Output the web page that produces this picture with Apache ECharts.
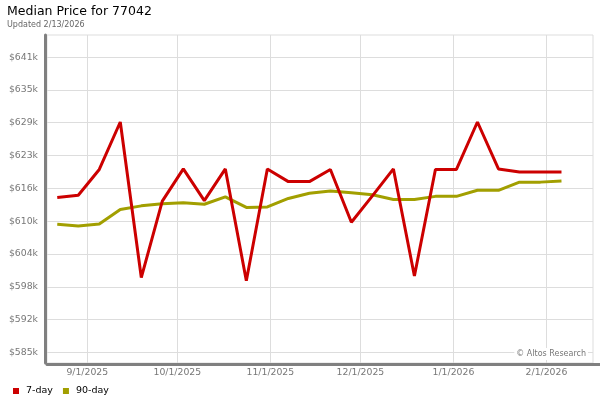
<!DOCTYPE html>
<html><head><meta charset="utf-8">
<script src="https://cdn.jsdelivr.net/npm/echarts@6/dist/echarts.min.js"></script>
<style>html,body{margin:0;padding:0;background:#fff}#c{width:600px;height:400px}</style>
</head><body><div id="c"></div>
<script>
const dates = ['2025-08-22','2025-08-29','2025-09-05','2025-09-12','2025-09-19','2025-09-26',
  '2025-10-03','2025-10-10','2025-10-17','2025-10-24','2025-10-31','2025-11-07','2025-11-14',
  '2025-11-21','2025-11-28','2025-12-05','2025-12-12','2025-12-19','2025-12-26','2026-01-02',
  '2026-01-09','2026-01-16','2026-01-23','2026-01-30','2026-02-06'];
const sevenDay = [614700, 615100, 620000, 629000, 599500, 614000, 620100, 614100, 620100, 598900,
  620100, 617700, 617700, 620000, 610000, 615000, 620100, 599800, 620000, 620000, 629000, 620100,
  619500, 619500, 619500];
const ninetyDay = [609600, 609300, 609650, 612400, 613100, 613500, 613700, 613400, 614800, 612800,
  612900, 614500, 615500, 615900, 615600, 615200, 614300, 614300, 614900, 614900, 616050, 616050,
  617600, 617600, 617800];
const xTickDates = ['2025-09-01','2025-10-01','2025-11-01','2025-12-01','2026-01-01','2026-02-01'];
const yTickValues = [585300, 591520, 597750, 603970, 610190, 616410, 622630, 628860, 635080, 641300];
const seriesNames = ['7-day', '90-day'];

const FONT = 'DejaVu Sans';
const toTime = s => { const p = s.split('-').map(Number); return new Date(p[0], p[1] - 1, p[2]).getTime(); };
const xTicks = xTickDates.map(toTime);
const toPairs = vals => dates.map((d, i) => [toTime(d), vals[i]]);
const chart = echarts.init(document.getElementById('c'), null, {renderer: 'canvas'});
chart.setOption({
  animation: false,
  backgroundColor: '#fff',
  title: {
    text: 'Median Price for 77042',
    subtext: 'Updated 2/13/2026',
    left: 7, top: 5, padding: 0, itemGap: 3,
    textStyle: {fontFamily: FONT, fontSize: 12.5, fontWeight: 'normal', color: '#000'},
    subtextStyle: {fontFamily: FONT, fontSize: 8, color: '#666'}
  },
  legend: {
    data: seriesNames,
    left: 8, top: 381,
    icon: 'rect', itemWidth: 6, itemHeight: 6, itemGap: 10,
    textStyle: {fontFamily: FONT, fontSize: 9.5, color: '#000', padding: [0, 0, 0, 2]}
  },
  grid: {left: 47, right: 7, top: 35, bottom: 37, show: true, borderColor: '#ddd', borderWidth: 1},
  xAxis: {
    type: 'value',
    min: new Date(2025, 7, 18, 14).getTime(),
    max: new Date(2026, 1, 16, 12).getTime(),
    offset: 1.5,
    axisLine: {show: true, lineStyle: {color: '#808080', width: 3}},
    axisTick: {show: false, customValues: xTicks},
    splitLine: {show: true, lineStyle: {color: '#ddd', width: 1}},
    axisLabel: {
      customValues: xTicks,
      margin: 4,
      fontFamily: FONT, fontSize: 9.3, color: '#777',
      formatter: v => { const d = new Date(v); return (d.getMonth() + 1) + '/' + d.getDate() + '/' + d.getFullYear(); }
    }
  },
  yAxis: {
    type: 'value',
    min: 583300, max: 645500,
    offset: 2,
    axisLine: {show: true, lineStyle: {color: '#808080', width: 3}},
    axisTick: {show: false, customValues: yTickValues},
    splitLine: {show: true, lineStyle: {color: '#ddd', width: 1}},
    axisLabel: {
      customValues: yTickValues,
      margin: 7,
      fontFamily: FONT, fontSize: 9.3, color: '#777',
      formatter: v => '$' + Math.round(v / 1000) + 'k'
    }
  },
  graphic: [
    {type: 'rect', shape: {x: 593, y: 363, width: 7, height: 3}, style: {fill: '#808080'}, silent: true},
    {type: 'text', right: 12, top: 348, z: 10, silent: true,
     style: {text: '© Altos Research', font: '8px "DejaVu Sans"', fill: '#777',
             backgroundColor: '#fff', padding: [2, 2, 2, 2]}}
  ],
  series: [
    {name: '90-day', type: 'line', data: toPairs(ninetyDay), symbol: 'none', z: 2,
     lineStyle: {color: '#a29f00', width: 3}, itemStyle: {color: '#a29f00'}},
    {name: '7-day', type: 'line', data: toPairs(sevenDay), symbol: 'none', z: 3,
     lineStyle: {color: '#cc0000', width: 3}, itemStyle: {color: '#cc0000'}}
  ]
});
</script></body></html>
